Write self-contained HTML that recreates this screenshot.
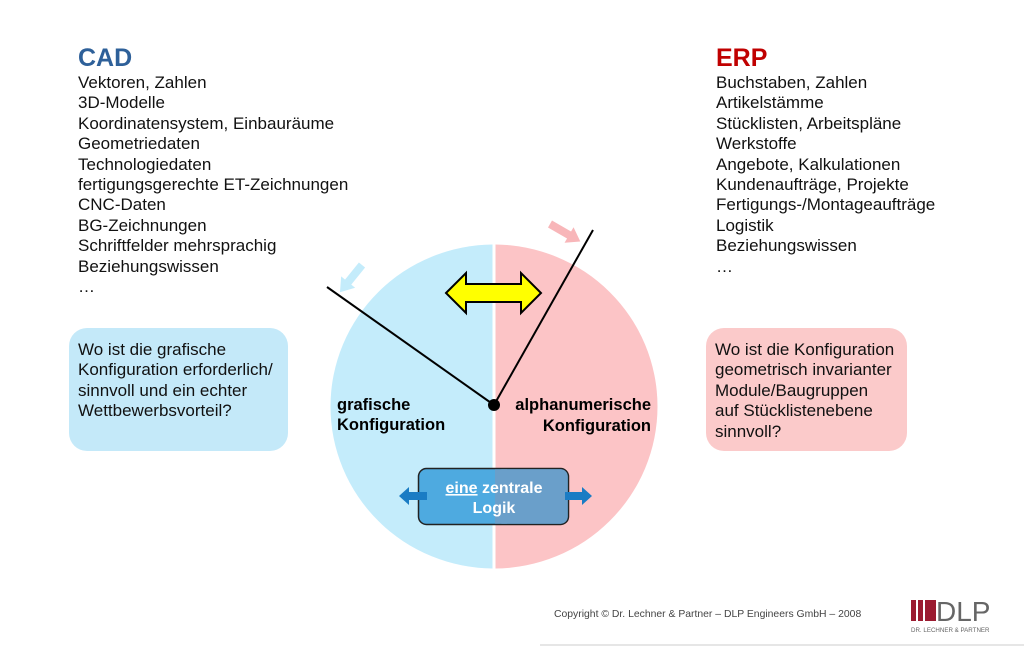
<!DOCTYPE html>
<html><head><meta charset="utf-8"><style>
body{margin:0;width:1024px;height:647px;background:#fff;position:relative;overflow:hidden;font-family:"Liberation Sans",Arial,sans-serif;}
.t{position:absolute;font-size:17px;line-height:20.4px;color:#111;}
h1{position:absolute;margin:0;font-size:25px;font-weight:bold;}
.box{position:absolute;border-radius:18px;font-size:17px;line-height:20.4px;color:#111;padding:12px 0 0 9px;box-sizing:border-box;}
</style></head><body>
<h1 style="left:78px;top:44px;color:#2e6099">CAD</h1>
<div class="t" style="left:78px;top:73px">Vektoren, Zahlen<br>3D-Modelle<br>Koordinatensystem, Einbauräume<br>Geometriedaten<br>Technologiedaten<br>fertigungsgerechte ET-Zeichnungen<br>CNC-Daten<br>BG-Zeichnungen<br>Schriftfelder mehrsprachig<br>Beziehungswissen<br>…</div>
<h1 style="left:716px;top:44px;color:#c00000">ERP</h1>
<div class="t" style="left:716px;top:73px">Buchstaben, Zahlen<br>Artikelstämme<br>Stücklisten, Arbeitspläne<br>Werkstoffe<br>Angebote, Kalkulationen<br>Kundenaufträge, Projekte<br>Fertigungs-/Montageaufträge<br>Logistik<br>Beziehungswissen<br>…</div>
<div class="box" style="left:69px;top:328px;width:219px;height:123px;background:#c4e9f9">Wo ist die grafische<br>Konfiguration erforderlich/<br>sinnvoll und ein echter<br>Wettbewerbsvorteil?</div>
<div class="box" style="left:706px;top:328px;width:201px;height:123px;background:#fbcaca">Wo ist die Konfiguration<br>geometrisch invarianter<br>Module/Baugruppen<br>auf Stücklistenebene<br>sinnvoll?</div>
<svg style="position:absolute;left:0;top:0" width="1024" height="647">
<defs>
<clipPath id="cl"><rect x="300" y="230" width="192.5" height="360"/></clipPath>
<clipPath id="cr"><rect x="495.5" y="230" width="200" height="360"/></clipPath>
</defs>
<ellipse cx="494" cy="406.5" rx="163.5" ry="162" fill="#c4ecfb" clip-path="url(#cl)"/>
<ellipse cx="494" cy="406.5" rx="163.5" ry="162" fill="#fcc4c6" clip-path="url(#cr)"/>
<polygon points="446,293 466,273 466,284 521,284 521,273 541,293 521,313 521,302 466,302 466,313" fill="#ffff00" stroke="#000" stroke-width="2"/>
<polygon transform="translate(362,265) rotate(129)" points="0,-4 22,-4 22,-9 35,0 22,9 22,4 0,4" fill="#c4ecfb"/>
<polygon transform="translate(550,224) rotate(30)" points="0,-4 22,-4 22,-9 35,0 22,9 22,4 0,4" fill="#f8b6b9"/>
<line x1="327" y1="287" x2="494" y2="405" stroke="#000" stroke-width="2"/>
<line x1="593" y1="230" x2="494" y2="405" stroke="#000" stroke-width="2"/>
<circle cx="494" cy="405" r="6" fill="#000"/>
<rect x="418.5" y="468.5" width="150" height="56" rx="8" fill="#4eaae0" stroke="#222" stroke-width="1.5"/>
<rect x="495" y="469.3" width="72.7" height="54.4" rx="7" fill="#6a9fca"/>
<rect x="495" y="469.3" width="12" height="54.4" fill="#6a9fca"/>
<polygon points="399,496 409,487 409,492 427,492 427,500 409,500 409,505" fill="#1a7cc4"/>
<polygon points="592,496 582,487 582,492 565,492 565,500 582,500 582,505" fill="#1a7cc4"/>
<text x="337" y="410" font-size="16.5" font-weight="bold" font-family="Liberation Sans,sans-serif">grafische</text>
<text x="337" y="430" font-size="16.5" font-weight="bold" font-family="Liberation Sans,sans-serif">Konfiguration</text>
<text x="651" y="410" font-size="16.5" font-weight="bold" text-anchor="end" font-family="Liberation Sans,sans-serif">alphanumerische</text>
<text x="651" y="431" font-size="16.5" font-weight="bold" text-anchor="end" font-family="Liberation Sans,sans-serif">Konfiguration</text>
<text x="494" y="493" font-size="16" font-weight="bold" fill="#fff" text-anchor="middle" font-family="Liberation Sans,sans-serif"><tspan text-decoration="underline">eine</tspan> zentrale</text>
<text x="494" y="513" font-size="16" font-weight="bold" fill="#fff" text-anchor="middle" font-family="Liberation Sans,sans-serif">Logik</text>
<text x="554" y="617" font-size="10.4" fill="#444" font-family="Liberation Sans,sans-serif">Copyright © Dr. Lechner &amp; Partner – DLP Engineers GmbH – 2008</text>
<rect x="911" y="600" width="5" height="21" fill="#9b1b30"/>
<rect x="918" y="600" width="5" height="21" fill="#9b1b30"/>
<rect x="925" y="600" width="11" height="21" fill="#9b1b30"/>
<text x="936" y="621" font-size="28" fill="#666" font-family="Liberation Sans,sans-serif">DLP</text>
<text x="911" y="632" font-size="6.2" fill="#666" font-family="Liberation Sans,sans-serif">DR. LECHNER &amp; PARTNER</text>
<line x1="540" y1="645" x2="1024" y2="645" stroke="#ccc" stroke-width="1"/>
</svg>
</body></html>
